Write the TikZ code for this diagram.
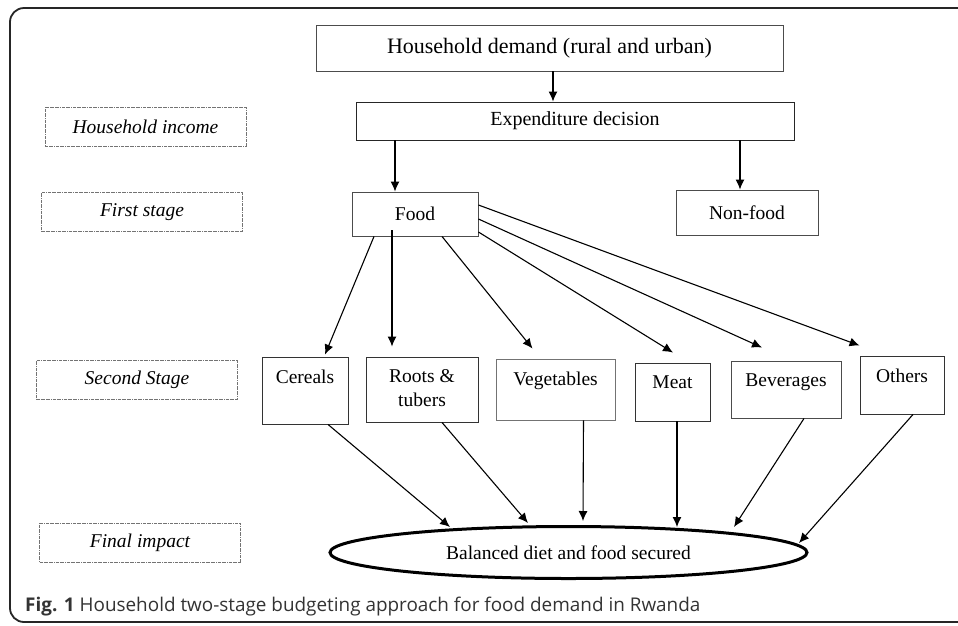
\documentclass[tikz,border=0pt]{standalone}
\usepackage{fontspec}
\setmainfont{Liberation Serif}
\newfontfamily\capfont{Open Sans}
\usetikzlibrary{shapes.geometric,arrows.meta}

\tikzset{
  box/.style={draw=black!70,line width=0.9pt,inner sep=0pt},
  catbox/.style={draw=black!80,line width=0.9pt,inner sep=0pt},
  stagebox/.style={draw=black!55,densely dashdotted,line width=0.7pt,
    minimum width=201,minimum height=39,inner sep=0pt,
    font=\fontsize{19.5}{23}\selectfont\itshape},
  toptext/.style={anchor=north,inner sep=0pt,yshift=-13pt,align=center},
  arr/.style={-{Latex[length=10pt,width=9pt]},line width=1.1pt},
}

\begin{document}
\begin{tikzpicture}[x=1pt,y=-1pt,font=\fontsize{19.5}{24}\selectfont]
  \clip (0,0) rectangle (958,625);
  \draw[line width=1.8pt,black!85,rounded corners=14pt] (10,8) rectangle (990,622);

  % top of the budget
  \node[box,minimum width=467,minimum height=46,font=\fontsize{22}{26}\selectfont]
    (dem) at (549.5,48) {Household demand (rural and urban)};
  \node[box,draw=black!85,minimum width=438,minimum height=38,font=\fontsize{20}{24}\selectfont]
    (exp) at (575,121) {Expenditure decision};

  % stage labels on the left
  \node[stagebox] (inc) at (145.5,126.5) {Household income};
  \node[stagebox] (st1) at (142,212) {First stage};
  \node[stagebox] (st2) at (137,380) {Second Stage};
  \node[stagebox] (fin) at (140,542.5) {Final impact};

  % first stage
  \node[box,minimum width=126,minimum height=44] (food) at (415,214) {Food};
  \node[box,minimum width=142,minimum height=45] (nf) at (747,212.5) {Non-food};

  % second stage
  \node[catbox,minimum width=86,minimum height=67,label={[toptext]north:Cereals}]
    (cer) at (305,390.5) {};
  \node[catbox,minimum width=112,minimum height=65,label={[toptext]north:Roots \&\\tubers}]
    (roots) at (422,389.5) {};
  \node[catbox,draw=black!55,minimum width=119,minimum height=61,label={[toptext]north:Vegetables}]
    (veg) at (555.5,389.5) {};
  \node[catbox,minimum width=75,minimum height=58,label={[toptext]north:Meat}]
    (meat) at (672.5,392) {};
  \node[catbox,draw=black!70,minimum width=110,minimum height=57,label={[toptext]north:Beverages}]
    (bev) at (786,389.5) {};
  \node[catbox,minimum width=84,minimum height=58,label={[toptext]north:Others}]
    (oth) at (902,385) {};

  % final impact
  \node[draw,ellipse,line width=3pt,minimum width=477,minimum height=52,inner sep=0pt]
    (goal) at (568.5,552.5) {Balanced diet and food secured};

  \node[anchor=base west,inner sep=0pt,text=black!80,font=\capfont\fontsize{18.9}{22}\selectfont]
    (cap) at (25,611) {\textbf{Fig. 1} Household two-stage budgeting approach for food demand in Rwanda};

  % arrows
  \draw[arr] ([xshift=3.5]dem.south) -- ([xshift=-22]exp.north);
  \draw[arr] ([xshift=-180]exp.south) -- ([xshift=-20]food.north);
  \draw[arr] ([xshift=165]exp.south) -- ([xshift=-7]nf.north);

  \draw[arr] ([xshift=-41]food.south) -- ([xshift=20,yshift=2]cer.north);
  \draw[arr] ([xshift=-23,yshift=6]food.south) -- ([xshift=-30,yshift=10]roots.north);
  \draw[arr] ([xshift=27]food.south) -- ([xshift=-23,yshift=10]veg.north);
  \draw[arr] ([yshift=-18]food.east) -- ([xshift=0.5,yshift=10]meat.north);
  \draw[arr] ([yshift=-5]food.east) -- ([xshift=-24,yshift=13]bev.north);
  \draw[arr] ([yshift=9]food.east) -- ([yshift=10]oth.north west);

  \draw[arr] ([xshift=23]cer.south) -- ([shift={(-118.5,-25.5)}]goal.center);
  \draw[arr] ([xshift=20]roots.south) -- ([shift={(-40.5,-29.5)}]goal.center);
  \draw[arr] ([xshift=28]veg.south) -- ([shift={(14.5,-31.5)}]goal.center);
  \draw[arr] ([xshift=4.5]meat.south) -- ([shift={(108.5,-25.5)}]goal.center);
  \draw[arr] ([xshift=18]bev.south) -- ([shift={(165.5,-25.5)}]goal.center);
  \draw[arr] ([xshift=11]oth.south) -- ([shift={(230.5,-9.5)}]goal.center);
\end{tikzpicture}
\end{document}
